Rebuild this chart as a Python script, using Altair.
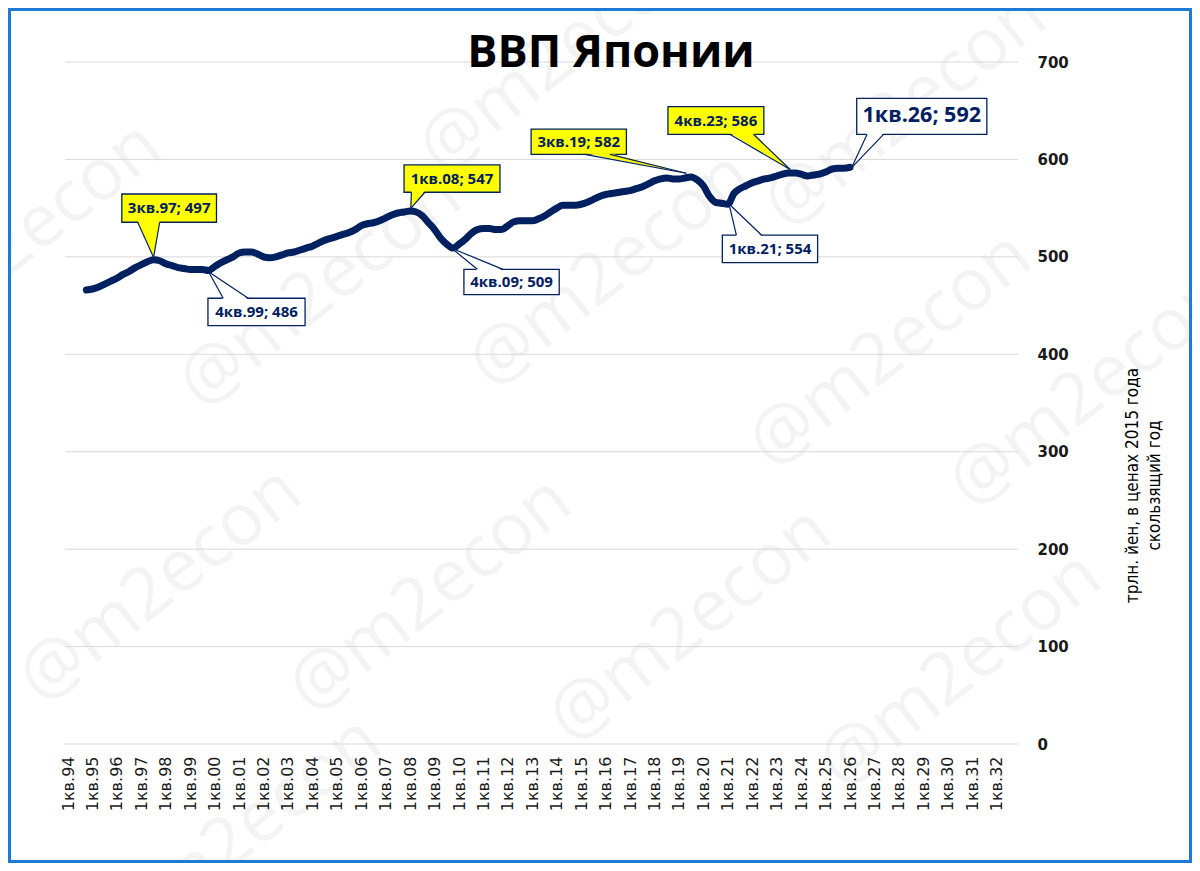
import altair as alt
import pandas as pd

# ---------------- data ----------------
years = list(range(1994, 2033))
quarter_labels = [f"{q}кв.{y % 100:02d}" for y in years for q in range(1, 5)]
tick_idx = list(range(0, len(quarter_labels), 4))
tick_labels = [quarter_labels[i] for i in tick_idx]
y_ticks = [0, 100, 200, 300, 400, 500, 600, 700]

start_idx = 3  # 4кв.94
gdp = [466, 467, 469, 472, 475, 478, 482, 485, 489, 492, 495, 497, 496, 493, 491, 489,
       488, 487, 487, 487, 486, 490, 494, 497, 500, 504, 505, 505, 503, 500, 499, 500,
       502, 504, 505, 507, 509, 511, 514, 517, 519, 521, 523, 525, 528, 532, 534, 535,
       537, 540, 543, 545, 546, 547, 546, 542, 535, 528, 519, 513, 509, 513, 518, 524,
       528, 529, 529, 528, 528, 532, 536, 537, 537, 537, 539, 542, 546, 550, 553, 553,
       553, 554, 556, 559, 562, 564, 565, 566, 567, 568, 570, 572, 575, 578, 580, 581,
       580, 580, 581, 582, 579, 573, 562, 556, 555, 554, 565, 570, 573, 576, 578, 580,
       581, 583, 585, 586, 586, 585, 583, 584, 585, 587, 590, 591, 591, 592]
line_df = pd.DataFrame({
    "i": list(range(start_idx, start_idx + len(gdp))),
    "v": gdp,
})
line_df["q"] = [quarter_labels[i] for i in line_df["i"]]

# callouts: text, tip (i, v), box (i1, i2, v1, v2), wedge base (b1, b2), fill, size
c_text = ["3кв.97; 497", "4кв.99; 486", "1кв.08; 547", "4кв.09; 509",
          "3кв.19; 582", "4кв.23; 586", "1кв.21; 554", "1кв.26; 592"]
c_tip_i = [14, 23, 56.1, 62.8, 101.2, 118.2, 108.2, 128.3]
c_tip_v = [499.5, 484.8, 549.8, 508.8, 585.8, 589.7, 554.2, 591.9]
c_box_i1 = [8.8, 22.9, 55.0, 64.8, 75.8, 98.2, 107.1, 129.1]
c_box_i2 = [24.3, 38.8, 70.7, 80.4, 91.4, 113.9, 122.7, 150.4]
c_box_v1 = [535.5, 429.4, 566.3, 461.2, 605.2, 625.8, 494.0, 625.8]
c_box_v2 = [564.5, 457.5, 594.4, 487.2, 631.2, 654.1, 522.4, 662.7]
c_base_b1 = [11.4, 25.4, 56.2, 67.0, 84.6, 108.3, 109.4, 130.8]
c_base_b2 = [15.0, 29.5, 58.4, 71.2, 88.7, 112.2, 113.5, 133.5]
c_fill = ["#FFFF00", "#FFFFFF", "#FFFF00", "#FFFFFF",
          "#FFFF00", "#FFFF00", "#FFFFFF", "#FFFFFF"]
c_size = [15, 15, 15, 15, 15, 15, 15, 21.5]

NAVY = "#002060"

boxes = pd.DataFrame({
    "id": list(range(len(c_text))), "text": c_text,
    "i1": c_box_i1, "i2": c_box_i2, "v1": c_box_v1, "v2": c_box_v2,
    "fill": c_fill, "size": c_size,
})
boxes["ic"] = (boxes["i1"] + boxes["i2"]) / 2
boxes["vc"] = (boxes["v1"] + boxes["v2"]) / 2

wedge_rows, rule_rows = [], []
for k in range(len(c_text)):
    above = c_box_v1[k] > c_tip_v[k]
    base_v = c_box_v1[k] if above else c_box_v2[k]
    inset = 1.2 if above else -1.2
    wedge_rows.append({"id": k, "y": c_tip_v[k], "x": c_tip_i[k], "x2": c_tip_i[k], "fill": c_fill[k]})
    wedge_rows.append({"id": k, "y": base_v + inset, "x": c_base_b1[k], "x2": c_base_b2[k], "fill": c_fill[k]})
    for b in (c_base_b1[k], c_base_b2[k]):
        rule_rows.append({"x": c_tip_i[k], "y": c_tip_v[k], "x2": b, "y2": base_v})
wedges = pd.DataFrame(wedge_rows)
rules = pd.DataFrame(rule_rows)

# watermark positions (view pixels)
wm_x = [495, 840, -45, 255, 545, 825, 1025, 95, 365, 625, 895, 175]
wm_y = [-7, 48, 178, 228, 208, 288, 328, 523, 533, 563, 608, 773]
wm = pd.DataFrame({"px": wm_x, "py": wm_y, "t": ["@m2econ"] * len(wm_x)})

W, H = 953, 682
XSCALE = alt.Scale(domain=[-0.5, 155.5], nice=False, zero=False)
YSCALE = alt.Scale(domain=[0, 700], nice=False)

label_expr = "[" + ",".join(f"'{t}'" for t in tick_labels) + "][round(datum.value/4)]"

x_axis = alt.Axis(values=tick_idx, labelExpr=label_expr, grid=False, ticks=False,
                  domain=False, labelAngle=270, labelFont="DejaVu Sans", labelFontSize=16,
                  labelColor="#1a1a1a", labelPadding=12, labelAlign="right",
                  labelBaseline="middle", labelFlush=False, labelOverlap=False,
                  labelBound=False, title=None, zindex=1)
y_axis = alt.Axis(orient="right", values=y_ticks, grid=False, ticks=False, domain=False,
                  labelFont="DejaVu Sans", labelFontWeight="bold", labelFontSize=15,
                  labelColor="#1a1a1a", labelPadding=19, labelAlign="left",
                  labelOverlap=False, labelFlush=False,
                  title=["трлн. йен, в ценах 2015 года", "скользящий год"],
                  titleFont="DejaVu Sans Condensed", titleFontSize=17,
                  titleFontWeight="normal", titleColor="#000000", titleAngle=270,
                  titleX=114, titleY=423, titleAlign="center", titleBaseline="middle",
                  titleLineHeight=22, zindex=1)

X = lambda f: alt.X(f, scale=XSCALE, axis=x_axis)
Y = lambda f: alt.Y(f, scale=YSCALE, axis=y_axis)

watermarks = alt.Chart(wm).mark_text(
    font="Open Sans", fontSize=72, angle=322, color="#f3f3f3", align="center",
    baseline="middle"
).encode(x=alt.X("px:Q", scale=None, axis=None), y=alt.Y("py:Q", scale=None, axis=None), text="t:N")

grid = alt.Chart(pd.DataFrame({"g": y_ticks})).mark_rule(color="#d9d9d9", strokeWidth=1).encode(
    y=Y("g:Q"), x=alt.value(0), x2=alt.value(W)
)

line = alt.Chart(line_df).mark_line(
    color=NAVY, strokeWidth=7, interpolate="monotone", strokeCap="round", strokeJoin="round"
).encode(x=X("i:Q"), y=Y("v:Q"))

box_layer = alt.Chart(boxes).mark_rect(stroke=NAVY, strokeWidth=1.3).encode(
    x=X("i1:Q"), x2="i2:Q", y=Y("v1:Q"), y2="v2:Q",
    fill=alt.Fill("fill:N", scale=None),
)
wedge_layer = alt.Chart(wedges).mark_area(orient="horizontal").encode(
    y=Y("y:Q"), x=X("x:Q"), x2="x2:Q",
    detail="id:N",
    fill=alt.Fill("fill:N", scale=None),
)
rule_layer = alt.Chart(rules).mark_rule(color=NAVY, strokeWidth=1.2).encode(
    x=X("x:Q"), y=Y("y:Q"), x2="x2:Q", y2="y2:Q",
)
text_layer = alt.Chart(boxes).mark_text(
    font="Open Sans", fontWeight="bold", color=NAVY, align="center", baseline="middle"
).encode(
    x=X("ic:Q"), y=Y("vc:Q"),
    text="text:N", size=alt.Size("size:Q", scale=None, legend=None),
)

title = alt.Chart(pd.DataFrame({"t": ["ВВП Японии"]})).mark_text(
    font="Open Sans", fontWeight="bold", fontSize=45, color="#000000",
    align="center", baseline="alphabetic"
).encode(x=alt.value(546), y=alt.value(5), text="t:N")

frame = alt.Chart(pd.DataFrame({"a": [1]})).mark_rect(
    filled=False, stroke="#1E7AD2", strokeWidth=3
).encode(x=alt.value(-55.5), x2=alt.value(1125.5), y=alt.value(-52.5), y2=alt.value(799.5))

chart = alt.layer(
    watermarks, grid, line, box_layer, wedge_layer, rule_layer, text_layer, title, frame
).properties(
    width=W, height=H,
    autosize=alt.AutoSizeParams(type="none"),
    padding={"left": 57, "top": 54, "right": 174, "bottom": 119},
).configure_view(stroke=None).configure_axis(labelOverlap=False)

chart.save("out.html", embed_options={"renderer": "svg", "actions": False})
